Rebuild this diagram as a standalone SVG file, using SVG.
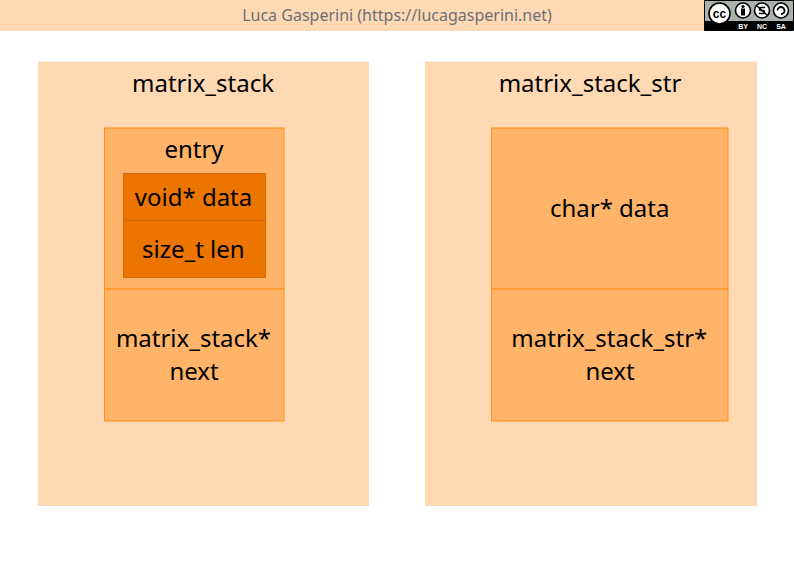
<svg xmlns="http://www.w3.org/2000/svg" width="794" height="567" viewBox="0 0 794 567">
<style>
text{font-family:"Noto Sans","Open Sans",sans-serif;text-anchor:middle;fill:#000;font-size:24px}
.outer{fill:#ffd9b3}
.mid{fill:#ffb469;stroke:#ff9019;stroke-width:1}
.in{fill:#ec7500;stroke:#c96a10;stroke-width:1}
.cc{fill:#fff;stroke:#000;stroke-width:1.6}
text.cct{font-family:"Liberation Sans",sans-serif;font-size:7px;font-weight:bold;fill:#fff}
</style>
<rect width="794" height="567" fill="#fff"/>
<g id="header">
<rect class="outer" x="0" y="0" width="794" height="31"/>
<text x="397" y="21" style="font-size:16px;fill:#6b7075">Luca Gasperini (https://lucagasperini.net)</text>
</g>
<g id="license">
<rect x="704" y="0" width="90" height="31" fill="#000" rx="1"/>
<rect x="705" y="1" width="88" height="20" fill="#aab2ab"/>
<circle class="cc" cx="719.500" cy="13.500" r="10.500"/>
<text x="719.500" y="17.500" style="font-family:'Liberation Sans',sans-serif;font-size:12px;font-weight:bold">cc</text>
<circle class="cc" cx="743" cy="10.500" r="7.500"/>
<circle cx="743" cy="6.500" r="1.600" fill="#000"/>
<rect x="741" y="8.500" width="4" height="7" fill="#000"/>
<circle class="cc" cx="762" cy="10.500" r="7.500"/>
<path d="M757 6l10 9" stroke="#000" stroke-width="1.400" fill="none"/>
<path d="M765 7.500h-4a1.500 1.500 0 0 0 0 3h2a1.500 1.500 0 0 1 0 3h-4" stroke="#000" stroke-width="1.500" fill="none"/>
<circle class="cc" cx="781" cy="10.500" r="7.500"/>
<path d="M777.500 10.500a3.500 3.500 0 1 1 3.500 3.500" stroke="#000" stroke-width="1.800" fill="none"/>
<text class="cct" x="743" y="28.500">BY</text>
<text class="cct" x="762" y="28.500">NC</text>
<text class="cct" x="781" y="28.500">SA</text>
</g>
<g id="matrix_stack">
<rect class="outer" x="38" y="61.500" width="331" height="444.500"/>
<text x="203" y="92">matrix_stack</text>
</g>
<g id="matrix_stack_entry">
<rect class="mid" x="104.500" y="128" width="179.500" height="161"/>
<text x="194" y="158">entry</text>
</g>
<g id="entry_data">
<rect class="in" x="123.500" y="173.500" width="142" height="47"/>
<text x="193.500" y="206">void* data</text>
</g>
<g id="entry_len">
<rect class="in" x="123.500" y="220.500" width="142" height="57"/>
<text x="193.300" y="258">size_t len</text>
</g>
<g id="matrix_stack_next">
<rect class="mid" x="104.500" y="289" width="179.500" height="132"/>
<text x="193.500" y="347">matrix_stack*</text>
<text x="194" y="380">next</text>
</g>
<g id="matrix_stack_str">
<rect class="outer" x="425" y="61.500" width="332" height="444.500"/>
<text x="590" y="92">matrix_stack_str</text>
</g>
<g id="str_data">
<rect class="mid" x="491.500" y="128" width="236.500" height="161"/>
<text x="609.700" y="217">char* data</text>
</g>
<g id="str_next">
<rect class="mid" x="491.500" y="289" width="236.500" height="132"/>
<text x="609.300" y="347">matrix_stack_str*</text>
<text x="610" y="380">next</text>
</g>
<g id="connectors"></g>
</svg>
